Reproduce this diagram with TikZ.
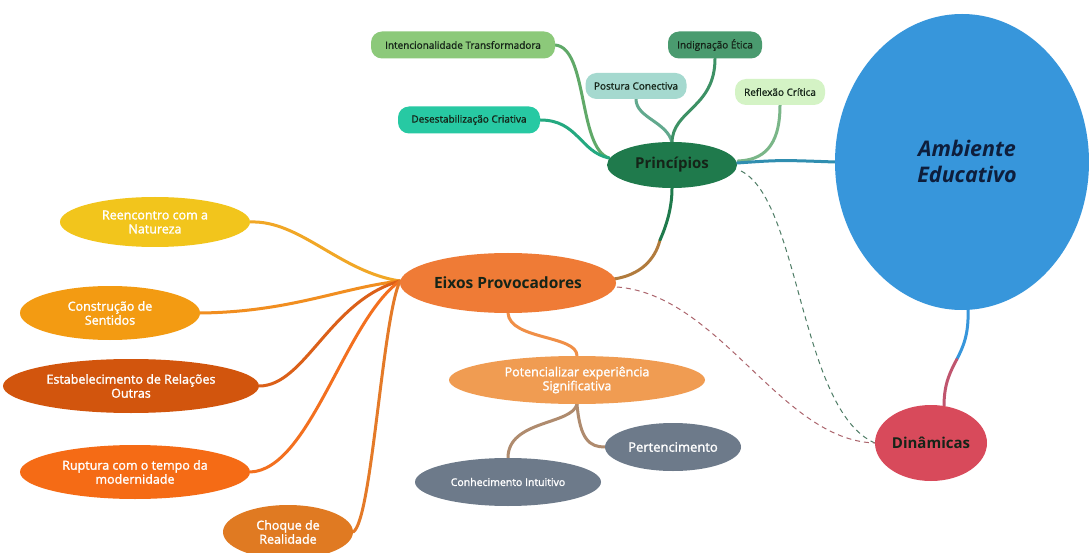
\documentclass[tikz,border=0pt]{standalone}
\usepackage{fontspec}
\setmainfont{Open Sans}
\newfontfamily\medfont[RawFeature={embolden=1.0}]{Open Sans}
\newfontfamily\semifont[RawFeature={embolden=1.6}]{Open Sans}
\usetikzlibrary{shapes.geometric,backgrounds}
\definecolor{cPrin}{HTML}{1F7A4C}
\definecolor{cInt}{HTML}{8CC97A}
\definecolor{cInd}{HTML}{4A9B6F}
\definecolor{cPos}{HTML}{A5D9CF}
\definecolor{cRef}{HTML}{D4F3C5}
\definecolor{cDes}{HTML}{27C9A3}
\definecolor{cEix}{HTML}{EF7B36}
\definecolor{cRee}{HTML}{F2C51C}
\definecolor{cCon}{HTML}{F39B12}
\definecolor{cEst}{HTML}{D2550D}
\definecolor{cRup}{HTML}{F56B15}
\definecolor{cCho}{HTML}{E07A22}
\definecolor{cPot}{HTML}{F09C52}
\definecolor{cGray}{HTML}{6D7A8A}
\definecolor{cDin}{HTML}{D84A5B}
\definecolor{cAmb}{HTML}{3796DB}
\definecolor{cDark}{HTML}{152418}
\definecolor{cNavy}{HTML}{0E1E3C}
\begin{document}
\begin{tikzpicture}[x=1pt,y=-1pt,
  ov/.style={ellipse, inner sep=0pt, align=center, text=white, font=\semifont\fontsize{12.5}{14}\selectfont},
  pill/.style={rectangle, rounded corners=11pt, inner sep=0pt, minimum height=27pt, text=cDark, font=\medfont\fontsize{10}{11}\selectfont},
  link/.style={line width=3pt, line cap=round},
  dlink/.style={line width=1pt, dashed, dash pattern=on 5pt off 4pt}
]
\useasboundingbox (0,0) rectangle (1089,553);

% main nodes
\node[ellipse, fill=cAmb, minimum width=254pt, minimum height=296pt, inner sep=0pt] (amb) at (962,162) {};
\node[text=cNavy, align=center, font=\fontsize{21.5}{26}\selectfont\bfseries\itshape] at (967,161) {Ambiente\\Educativo};
\node[ellipse, fill=cDin, minimum width=112pt, minimum height=76pt, inner sep=0pt, text=cDark, font=\fontsize{15}{17}\selectfont\bfseries] (din) at (931,443) {Dinâmicas};
\node[ellipse, fill=cPrin, minimum width=130pt, minimum height=46pt, inner sep=0pt, text=cDark, font=\fontsize{15}{17}\selectfont\bfseries] (prin) at (672,165) {Princípios};
\node[ellipse, fill=cEix, minimum width=216pt, minimum height=60pt, inner sep=0pt, text=cDark, font=\fontsize{15.5}{17}\selectfont\bfseries] (eix) at (508,283) {Eixos Provocadores};

% Principios children
\node[pill, fill=cInt, minimum width=184pt] (int) at (463,45) {Intencionalidade Transformadora};
\node[pill, fill=cInd, minimum width=94pt] (ind) at (715,45) {Indignação Ética};
\node[pill, fill=cPos, minimum width=101pt, minimum height=26pt] (pos) at (636,86) {Postura Conectiva};
\node[pill, fill=cRef, minimum width=90pt, minimum height=26pt] (ref) at (780,92) {Reflexão Crítica};
\node[pill, fill=cDes, minimum width=142pt] (des) at (469,120) {Desestabilização Criativa};

% Eixos children
\node[ov, fill=cRee, minimum width=190pt, minimum height=50pt] (ree) at (155,222) {Reencontro com a\\Natureza};
\node[ov, fill=cCon, minimum width=180pt, minimum height=54pt] (con) at (110,313) {Construção de\\Sentidos};
\node[ov, fill=cEst, minimum width=256pt, minimum height=54pt] (est) at (131,386) {Estabelecimento de Relações\\Outras};
\node[ov, fill=cRup, minimum width=230pt, minimum height=54pt] (rup) at (135,472) {Ruptura com o tempo da\\modernidade};
\node[ov, fill=cCho, minimum width=130pt, minimum height=54pt] (cho) at (288,532) {Choque de\\Realidade};
\node[ov, fill=cPot, minimum width=256pt, minimum height=48pt] (pot) at (577,380) {Potencializar experiência\\Significativa};
\node[ov, fill=cGray, minimum width=136pt, minimum height=48pt, font=\semifont\fontsize{13}{14}\selectfont] (per) at (673,447) {Pertencimento};
\node[ov, fill=cGray, minimum width=186pt, minimum height=48pt, font=\semifont\fontsize{10.5}{12}\selectfont] (cin) at (508,482) {Conhecimento Intuitivo};

\coordinate (pw) at (609,158);
\coordinate (pn) at (672,143);
\coordinate (ew) at (400,281);
\coordinate (ads) at (968,309);
\coordinate (adm) at (956.75,359.4);
\coordinate (dn) at (944,406);
\coordinate (eps) at (614,279);
\coordinate (epm) at (660,240);

\begin{pgfonlayer}{background}
\fill[white] (0,0) rectangle (1089,553);
% Principios children links
\draw[link, draw=cInt!60!cPrin] (int.east) .. controls (588,48) and (578,148) .. (pw);
\draw[link, draw=cDes!60!cPrin] (des.east) .. controls (578,120) and (580,152) .. (pw);
\draw[link, draw=cPos!50!cPrin] (pos.south) .. controls (636,118) and (668,122) .. (pn);
\draw[link, draw=cInd!70!cPrin] (ind.south) .. controls (715,108) and (672,110) .. (pn);
\draw[link, draw=cRef!50!cPrin] (ref.south) .. controls (780,148) and (762,160) .. (738,161);
% Principios - Ambiente
\draw[link, draw=cAmb!70!cPrin] (737,163) .. controls (780,160) .. (amb.west);
% Ambiente - Dinamicas (blue to red)
\draw[link, draw=cAmb] (ads) .. controls (969,334.5) and (963,347.3) .. (adm);
\draw[link, draw=cDin!85!cAmb] (adm) .. controls (950.5,371.5) and (944,383) .. (dn);
% Eixos - Principios (orange to green)
\draw[link, draw=cEix!70!cPrin] (eps) .. controls (640,275) and (655,260) .. (epm);
\draw[link, draw=cPrin] (epm) .. controls (668,222) and (672,205) .. (prin.south);
% Eixos children
\draw[link, draw=cRee!60!cEix] (ree.east) .. controls (300,220) and (340,272) .. (ew);
\draw[link, draw=cCon!60!cEix] (con.east) .. controls (290,312) and (340,288) .. (ew);
\draw[link, draw=cEst!70!cEix] (est.east) .. controls (305,386) and (330,300) .. (ew);
\draw[link, draw=cRup!70!cEix] (rup.east) .. controls (310,470) and (345,320) .. (ew);
\draw[link, draw=cCho!70!cEix] (cho.east) .. controls (372,520) and (382,320) .. (ew);
\draw[link, draw=cPot!60!cEix] (eix.south) .. controls (510,340) and (577,335) .. (pot.north);
\draw[link, draw=cGray!50!cPot] (pot.south) .. controls (580,440) and (590,447) .. (per.west);
\draw[link, draw=cGray!50!cPot] (pot.south) .. controls (572,425) and (508,420) .. (cin.north);
% dashed relations
\draw[dlink, draw=cPrin!50!gray] (741,171) .. controls (800,200) and (800,410) .. (din.west);
\draw[dlink, draw=cDin!50!gray] (617,287) .. controls (720,295) and (780,440) .. (din.west);
\end{pgfonlayer}
\end{tikzpicture}
\end{document}
